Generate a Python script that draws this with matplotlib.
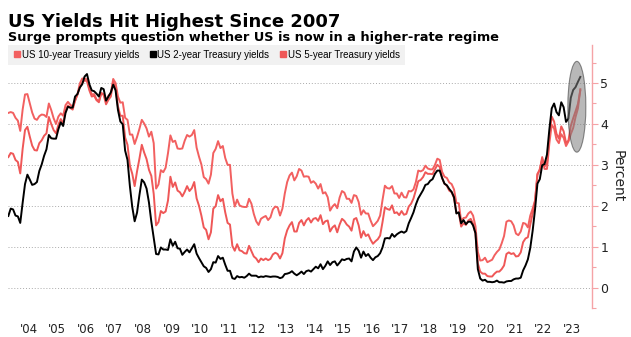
import numpy as np
import matplotlib
matplotlib.use("Agg")
import matplotlib.pyplot as plt
from matplotlib.patches import Ellipse
from matplotlib.lines import Line2D

# Monthly US Treasury yields (%), Oct 2003 - Oct 2023
start_year, start_month = 2003, 10

y10 = [4.27, 4.29, 4.27,
       4.15, 4.08, 3.83, 4.35, 4.72, 4.73, 4.50, 4.28, 4.13, 4.10, 4.19, 4.23,
       4.22, 4.17, 4.50, 4.34, 4.14, 4.00, 4.18, 4.26, 4.20, 4.46, 4.54, 4.47,
       4.42, 4.57, 4.72, 4.99, 5.11, 5.11, 5.09, 4.88, 4.72, 4.73, 4.60, 4.56,
       4.76, 4.72, 4.56, 4.69, 4.75, 5.10, 5.00, 4.67, 4.52, 4.53, 4.15, 4.10,
       3.74, 3.74, 3.51, 3.68, 3.88, 4.10, 4.01, 3.89, 3.69, 3.81, 3.53, 2.42,
       2.52, 2.87, 2.82, 2.93, 3.29, 3.72, 3.56, 3.59, 3.40, 3.39, 3.40, 3.59,
       3.73, 3.69, 3.73, 3.85, 3.42, 3.20, 3.01, 2.70, 2.65, 2.54, 2.76, 3.29,
       3.39, 3.58, 3.41, 3.46, 3.17, 3.00, 3.00, 2.30, 1.98, 2.15, 2.01, 1.98,
       1.97, 1.97, 2.17, 2.05, 1.80, 1.62, 1.53, 1.68, 1.72, 1.75, 1.65, 1.72,
       1.91, 1.98, 1.96, 1.76, 1.93, 2.30, 2.58, 2.74, 2.81, 2.62, 2.72, 2.90,
       2.86, 2.71, 2.72, 2.71, 2.56, 2.60, 2.54, 2.42, 2.53, 2.30, 2.33, 2.21,
       1.88, 1.98, 2.04, 1.94, 2.20, 2.36, 2.32, 2.17, 2.17, 2.07, 2.26, 2.24,
       2.09, 1.78, 1.89, 1.81, 1.81, 1.64, 1.50, 1.56, 1.63, 1.76, 2.14, 2.49,
       2.43, 2.42, 2.48, 2.30, 2.30, 2.19, 2.32, 2.21, 2.20, 2.36, 2.35, 2.40,
       2.58, 2.86, 2.84, 2.87, 2.98, 2.91, 2.89, 2.89, 3.00, 3.15, 3.12, 2.83,
       2.71, 2.68, 2.57, 2.53, 2.40, 2.07, 2.06, 1.63, 1.70, 1.71, 1.81, 1.86,
       1.76, 1.50, 0.87, 0.66, 0.67, 0.73, 0.62, 0.65, 0.68, 0.79, 0.87, 0.93,
       1.08, 1.26, 1.61, 1.64, 1.62, 1.52, 1.32, 1.28, 1.37, 1.58, 1.56, 1.47,
       1.76, 1.93, 2.13, 2.75, 2.90, 3.14, 2.90, 2.90, 3.52, 3.98, 3.89, 3.62,
       3.53, 3.75, 3.66, 3.46, 3.57, 3.75, 3.90, 4.17, 4.38, 4.85]

y2 = [1.75, 1.93, 1.91,
      1.76, 1.74, 1.58, 2.07, 2.53, 2.76, 2.64, 2.51, 2.53, 2.58, 2.85, 3.01,
      3.22, 3.38, 3.73, 3.65, 3.64, 3.64, 3.87, 4.04, 3.95, 4.27, 4.42, 4.40,
      4.40, 4.67, 4.73, 4.89, 4.97, 5.16, 5.22, 4.97, 4.82, 4.80, 4.74, 4.67,
      4.88, 4.85, 4.57, 4.67, 4.77, 4.96, 4.82, 4.34, 4.06, 3.99, 3.35, 3.12,
      2.48, 1.97, 1.62, 1.83, 2.26, 2.64, 2.57, 2.42, 2.08, 1.61, 1.21, 0.82,
      0.81, 0.98, 0.93, 0.93, 0.92, 1.18, 1.02, 1.12, 0.96, 0.95, 0.80, 0.87,
      0.93, 0.86, 0.96, 1.06, 0.83, 0.72, 0.62, 0.52, 0.48, 0.38, 0.45, 0.62,
      0.61, 0.77, 0.70, 0.73, 0.56, 0.41, 0.41, 0.23, 0.21, 0.28, 0.25, 0.26,
      0.24, 0.28, 0.34, 0.29, 0.29, 0.29, 0.25, 0.27, 0.26, 0.28, 0.27, 0.26,
      0.27, 0.27, 0.26, 0.23, 0.25, 0.33, 0.34, 0.36, 0.40, 0.34, 0.30, 0.34,
      0.39, 0.33, 0.40, 0.42, 0.39, 0.45, 0.51, 0.47, 0.57, 0.45, 0.53, 0.64,
      0.55, 0.62, 0.64, 0.54, 0.61, 0.69, 0.67, 0.70, 0.71, 0.64, 0.88, 0.98,
      0.90, 0.73, 0.88, 0.77, 0.82, 0.73, 0.67, 0.74, 0.77, 0.84, 0.98, 1.20,
      1.21, 1.20, 1.31, 1.24, 1.30, 1.34, 1.37, 1.34, 1.38, 1.57, 1.70, 1.84,
      2.03, 2.18, 2.28, 2.38, 2.51, 2.53, 2.61, 2.65, 2.78, 2.86, 2.86, 2.68,
      2.54, 2.50, 2.41, 2.34, 2.21, 1.81, 1.84, 1.57, 1.65, 1.55, 1.61, 1.61,
      1.52, 1.33, 0.45, 0.22, 0.17, 0.19, 0.14, 0.14, 0.13, 0.14, 0.17, 0.13,
      0.13, 0.12, 0.15, 0.16, 0.16, 0.20, 0.22, 0.22, 0.24, 0.42, 0.54, 0.69,
      0.97, 1.39, 1.91, 2.54, 2.65, 2.99, 3.02, 3.25, 3.86, 4.38, 4.50, 4.29,
      4.21, 4.53, 4.41, 4.05, 4.13, 4.64, 4.83, 4.90, 5.03, 5.15]

y5 = [3.19, 3.29, 3.27,
      3.12, 3.07, 2.79, 3.39, 3.85, 3.93, 3.69, 3.47, 3.36, 3.35, 3.53, 3.60,
      3.71, 3.77, 4.17, 4.00, 3.85, 3.77, 3.98, 4.12, 4.01, 4.33, 4.45, 4.39,
      4.35, 4.57, 4.72, 4.90, 5.00, 5.07, 5.04, 4.82, 4.67, 4.69, 4.58, 4.53,
      4.75, 4.71, 4.48, 4.59, 4.67, 5.03, 4.88, 4.43, 4.20, 4.20, 3.67, 3.49,
      2.98, 2.78, 2.48, 2.84, 3.15, 3.49, 3.30, 3.14, 2.88, 2.73, 2.29, 1.52,
      1.60, 1.87, 1.82, 1.86, 2.13, 2.71, 2.46, 2.57, 2.37, 2.33, 2.23, 2.34,
      2.48, 2.36, 2.43, 2.58, 2.18, 2.00, 1.76, 1.47, 1.41, 1.18, 1.35, 1.93,
      1.99, 2.26, 2.11, 2.17, 1.84, 1.58, 1.54, 1.02, 0.90, 1.06, 0.91, 0.89,
      0.84, 0.83, 1.02, 0.89, 0.76, 0.71, 0.62, 0.71, 0.67, 0.71, 0.67, 0.70,
      0.81, 0.85, 0.82, 0.71, 0.84, 1.20, 1.40, 1.52, 1.60, 1.37, 1.37, 1.58,
      1.65, 1.52, 1.64, 1.70, 1.59, 1.68, 1.70, 1.63, 1.77, 1.55, 1.62, 1.64,
      1.37, 1.47, 1.52, 1.35, 1.54, 1.68, 1.63, 1.54, 1.49, 1.39, 1.67, 1.70,
      1.52, 1.22, 1.38, 1.26, 1.30, 1.17, 1.07, 1.13, 1.18, 1.27, 1.60, 1.96,
      1.92, 1.90, 2.01, 1.82, 1.84, 1.77, 1.87, 1.78, 1.80, 1.98, 2.05, 2.18,
      2.38, 2.60, 2.63, 2.70, 2.82, 2.78, 2.78, 2.77, 2.89, 3.00, 2.95, 2.68,
      2.54, 2.49, 2.37, 2.33, 2.19, 1.83, 1.83, 1.49, 1.57, 1.53, 1.64, 1.68,
      1.56, 1.32, 0.59, 0.39, 0.34, 0.34, 0.28, 0.27, 0.27, 0.34, 0.39, 0.39,
      0.45, 0.54, 0.82, 0.86, 0.82, 0.84, 0.76, 0.77, 0.86, 1.11, 1.20, 1.23,
      1.54, 1.81, 2.11, 2.78, 2.87, 3.19, 2.96, 3.03, 3.70, 4.18, 4.06, 3.76,
      3.64, 3.94, 3.82, 3.54, 3.59, 3.95, 4.14, 4.31, 4.49, 4.82]

year_labels = ["'04", "'05", "'06", "'07", "'08", "'09", "'10", "'11", "'12", "'13",
               "'14", "'15", "'16", "'17", "'18", "'19", "'20", "'21", "'22", "'23"]
year_values = list(range(2004, 2024))
pct_ticks = [0, 1, 2, 3, 4, 5]

series_names = ["US 10-year Treasury yields", "US 2-year Treasury yields",
                "US 5-year Treasury yields"]

# decimal-year position of each month (mid-month)
n = len(y10)
t = start_year + (start_month - 1 + 0.5) / 12 + np.arange(n) / 12

RED10 = "#f26060"
RED5 = "#ef5757"
BLACK = "#000000"
PINK = "#f5a3a6"

fig = plt.figure(figsize=(6.31, 3.37), dpi=100)
W, H = 631, 337
ax = fig.add_axes([8 / W, (H - 308) / H, (592 - 8) / W, (308 - 45) / H])

ax.plot(t, y10, color=RED10, lw=1.4, zorder=3)
ax.plot(t, y5, color=RED5, lw=1.4, zorder=3)
ax.plot(t, y2, color=BLACK, lw=1.4, zorder=4)

# highlight of the latest move
ax.add_patch(Ellipse((2023.67, 4.42), 0.63, 2.22, facecolor="#7f7f7f",
                     edgecolor="#333333", lw=0.8, alpha=0.55, zorder=5))

ax.set_xlim(2003.78, 2024.2)
ax.set_ylim(-0.38, 5.93)

ax.set_xticks([y + 0.5 for y in year_values])
ax.set_xticklabels(year_labels, fontsize=8.5, color="#222222",
                   family="DejaVu Sans")
ax.tick_params(axis="x", length=0, pad=11)

ax.yaxis.tick_right()
ax.yaxis.set_label_position("right")
ax.set_yticks(pct_ticks)
ax.set_yticks([v + 0.5 for v in range(-1, 6)], minor=True)
ax.set_yticklabels([str(v) for v in pct_ticks], fontsize=9, color="#222222")
ax.tick_params(axis="y", which="major", length=4, width=0.8, color=PINK, pad=2)
ax.tick_params(axis="y", which="minor", length=3, width=0.8, color=PINK)
ax.set_ylabel("Percent", rotation=270, fontsize=10, labelpad=12,
              color="#222222")

ax.grid(axis="y", which="major", linestyle=(0, (1, 2)), color="#aaaaaa",
        lw=0.7, zorder=0)
for side in ["left", "top", "bottom"]:
    ax.spines[side].set_visible(False)
ax.spines["right"].set_color(PINK)
ax.spines["right"].set_linewidth(1.0)

handles = [Line2D([], [], color=c, marker="s", linestyle="none", markersize=5)
           for c in (RED10, BLACK, RED5)]
leg = ax.legend(handles, series_names, loc="upper left", ncol=3,
                bbox_to_anchor=(0.0, 1.0), frameon=True,
                prop={"family": "Liberation Sans", "size": 7},
                handletextpad=0.1, columnspacing=1.0, handlelength=0.8,
                borderpad=0.5, borderaxespad=0.0, fancybox=False)
leg.get_frame().set_facecolor("#f1f1f1")
leg.get_frame().set_edgecolor("none")
leg.get_frame().set_alpha(1.0)
leg.set_zorder(10)

fig.text(8 / W, 1 - 27 / H, "US Yields Hit Highest Since 2007",
         fontsize=13, fontweight="bold", family="DejaVu Sans", ha="left",
         va="baseline")
fig.text(8 / W, 1 - 41 / H,
         "Surge prompts question whether US is now in a higher-rate regime",
         fontsize=9.3, fontweight="bold", family="DejaVu Sans", ha="left",
         va="baseline")

fig.savefig("out.png", dpi=100, facecolor="white")
